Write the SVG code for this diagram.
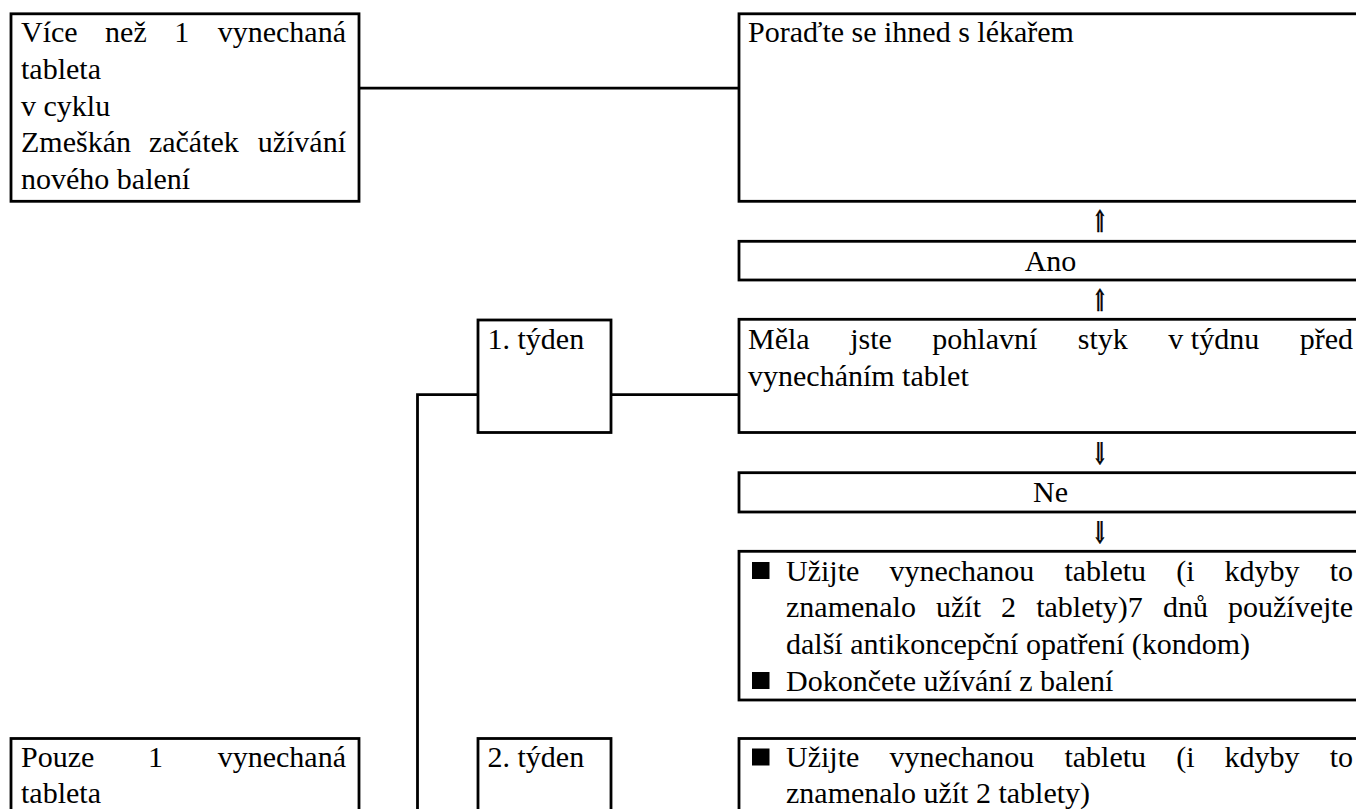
<svg xmlns="http://www.w3.org/2000/svg" width="1356" height="809" viewBox="0 0 1356 809">
<style>
.box{fill:#fff;stroke:#000;stroke-width:2.8}
.t{font-family:"Liberation Serif","Times New Roman",serif;font-size:30px;fill:#000}
.e{text-anchor:end}
.m{text-anchor:middle}
.ln{stroke:#000;stroke-width:2.8;fill:none}
.ar{font-family:"DejaVu Serif","DejaVu Sans",serif;font-size:30px;fill:#000;stroke:#000;stroke-width:0.7;text-anchor:middle}
.bul{fill:#000}
</style>
<rect width="1356" height="809" fill="#fff"/>
<g id="connectors">
<line class="ln" x1="359" y1="88.2" x2="739" y2="88.2"/>
<line class="ln" x1="611" y1="394.7" x2="739" y2="394.7"/>
<polyline class="ln" points="417.5,820 417.5,394.7 478,394.7"/>
<text class="ar" transform="translate(1100,232) scale(0.65,1)">⇑</text>
<text class="ar" transform="translate(1100,311) scale(0.65,1)">⇑</text>
<text class="ar" transform="translate(1100,463.5) scale(0.65,1)">⇓</text>
<text class="ar" transform="translate(1100,542.5) scale(0.65,1)">⇓</text>
</g>
<g id="node-more-than-one">
<rect class="box" x="11" y="13.8" width="348" height="187.5"/>
<text class="t" y="42"><tspan x="21">Více</tspan><tspan x="105.1">než</tspan><tspan x="174.2">1</tspan><tspan x="346" class="e">vynechaná</tspan></text>
<text class="t" x="21" y="78.8">tableta</text>
<text class="t" x="21" y="115.6">v cyklu</text>
<text class="t" y="152.4"><tspan x="21">Zmeškán</tspan><tspan x="148.9">začátek</tspan><tspan x="346" class="e">užívání</tspan></text>
<text class="t" x="21" y="189.2">nového balení</text>
</g>
<g id="node-doctor">
<rect class="box" x="739" y="13.8" width="640" height="187.5"/>
<text class="t" x="748" y="42">Poraďte se ihned s lékařem</text>
</g>
<g id="node-ano">
<rect class="box" x="739" y="241.3" width="640" height="38.7"/>
<text class="t m" x="1050.5" y="270.5">Ano</text>
</g>
<g id="node-week1">
<rect class="box" x="478" y="320" width="133" height="112.5"/>
<text class="t" x="487.5" y="349">1. týden</text>
</g>
<g id="node-question">
<rect class="box" x="739" y="319.3" width="640" height="113.2"/>
<text class="t" y="349"><tspan x="748">Měla</tspan><tspan x="850.2">jste</tspan><tspan x="932.3">pohlavní</tspan><tspan x="1077.8">styk</tspan><tspan x="1168.3">v týdnu</tspan><tspan x="1353" class="e">před</tspan></text>
<text class="t" x="748" y="385.7">vynecháním tablet</text>
</g>
<g id="node-ne">
<rect class="box" x="739" y="472.7" width="640" height="39.3"/>
<text class="t m" x="1050.5" y="502">Ne</text>
</g>
<g id="node-week1-advice">
<rect class="box" x="739" y="551.3" width="640" height="148.7"/>
<rect class="bul" x="752" y="562" width="17.5" height="17"/>
<text class="t" y="580.5"><tspan x="786">Užijte</tspan><tspan x="889.4">vynechanou</tspan><tspan x="1064.4">tabletu</tspan><tspan x="1176.2">(i</tspan><tspan x="1224.6">kdyby</tspan><tspan x="1353" class="e">to</tspan></text>
<text class="t" y="617.2"><tspan x="786">znamenalo</tspan><tspan x="936">užít</tspan><tspan x="1001.1">2</tspan><tspan x="1036.2">tablety)7</tspan><tspan x="1162.9">dnů</tspan><tspan x="1353" class="e">používejte</tspan></text>
<text class="t" x="786" y="653.9">další antikoncepční opatření (kondom)</text>
<rect class="bul" x="752" y="672" width="17.5" height="17"/>
<text class="t" x="786" y="690.6">Dokončete užívání z balení</text>
</g>
<g id="node-only-one">
<rect class="box" x="11" y="738.5" width="348" height="100"/>
<text class="t" y="767"><tspan x="21">Pouze</tspan><tspan x="148">1</tspan><tspan x="346" class="e">vynechaná</tspan></text>
<text class="t" x="21" y="802.5">tableta</text>
</g>
<g id="node-week2">
<rect class="box" x="478" y="738.5" width="133" height="100"/>
<text class="t" x="487.5" y="767">2. týden</text>
</g>
<g id="node-week2-advice">
<rect class="box" x="739" y="738.5" width="640" height="100"/>
<rect class="bul" x="752" y="748.5" width="17.5" height="17"/>
<text class="t" y="767"><tspan x="786">Užijte</tspan><tspan x="889.4">vynechanou</tspan><tspan x="1064.4">tabletu</tspan><tspan x="1176.2">(i</tspan><tspan x="1224.6">kdyby</tspan><tspan x="1353" class="e">to</tspan></text>
<text class="t" x="786" y="802.5">znamenalo užít 2 tablety)</text>
</g>
</svg>
